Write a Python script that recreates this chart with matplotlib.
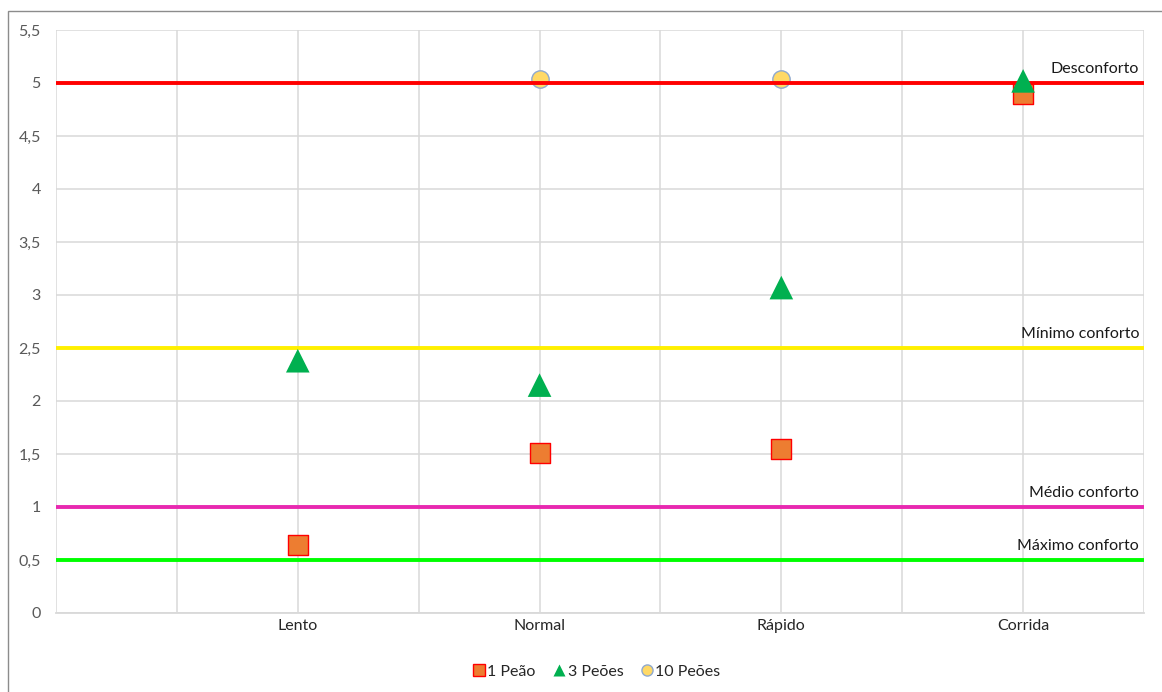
import matplotlib
matplotlib.use("Agg")
import matplotlib.pyplot as plt
from matplotlib.patches import Rectangle
from matplotlib.lines import Line2D
import numpy as np

plt.rcParams['font.family'] = ['Lato', 'DejaVu Sans']

# Walking speeds and comfort scores per crowd size
categories = ["Lento", "Normal", "Rápido", "Corrida"]
cat_x = [1, 2, 3, 4]
peao_1 = [0.64, 1.51, 1.55, 4.9]
peoes_3 = [2.38, 2.15, 3.07, 5.02]
peoes_10_x = [2, 3]
peoes_10 = [5.04, 5.04]

# Comfort thresholds
levels = [5.0, 2.5, 1.0, 0.5]
level_names = ["Desconforto", "Mínimo conforto", "Médio conforto", "Máximo conforto"]
level_colors = ["#FF0000", "#FFF000", "#E829B0", "#00FF00"]

FS = 11.5

fig = plt.figure(figsize=(11.62, 6.92), dpi=100)
ax = fig.add_axes([56 / 1162, 1 - 613 / 692, (1144 - 56) / 1162, (613 - 30) / 692])

# outer chart frame
fig.patches.append(Rectangle((8 / 1162, -0.1), 1.2, 1 - 11 / 692 + 0.1,
                             transform=fig.transFigure, fill=False,
                             edgecolor="#8c8c8c", linewidth=1.0))

ax.set_xlim(0, 4.5)
ax.set_ylim(0, 5.5)

xt = np.arange(0, 4.51, 0.5)
xl = []
for v in xt:
    if v in cat_x:
        xl.append(categories[cat_x.index(v)])
    else:
        xl.append("")
ax.set_xticks(xt)
ax.set_xticklabels(xl, fontsize=FS, color="#262626")
yt = np.arange(0, 5.51, 0.5)
ax.set_yticks(yt)
ax.set_yticklabels([("%g" % v).replace(".", ",") for v in yt], fontsize=FS, color="#595959")
ax.tick_params(axis="both", length=0)
ax.tick_params(axis="y", pad=11)
ax.tick_params(axis="x", pad=4)

ax.grid(True, color="#d9d9d9", linewidth=1.1, zorder=0)
ax.set_axisbelow(True)
for s in ["top", "right", "left"]:
    ax.spines[s].set_visible(False)
ax.spines["bottom"].set_color("#d9d9d9")
ax.spines["bottom"].set_linewidth(1.3)

ax.scatter(peoes_10_x, peoes_10, marker="o", s=12.5 ** 2, facecolor="#FFD966",
           edgecolor="#8EA9D0", linewidth=1.0, zorder=2, clip_on=False)

for lv, nm, c in zip(levels, level_names, level_colors):
    ax.plot([0, 4.5], [lv, lv], color=c, linewidth=2.8, zorder=3,
            solid_capstyle="butt", clip_on=False)
    ax.annotate(nm, xy=(4.48, lv), xytext=(0, 5), textcoords="offset points",
                ha="right", va="bottom", fontsize=FS, color="#1a1a1a", zorder=5)

ax.scatter(cat_x, peao_1, marker="s", s=15 ** 2, facecolor="#ED7D31",
           edgecolor="#FF0000", linewidth=1.0, zorder=3.5)
ax.scatter(cat_x, peoes_3, marker="^", s=17 ** 2, facecolor="#00B050",
           edgecolor="none", zorder=4)

handles = [
    Line2D([], [], linestyle="none", marker="s", markersize=8, markerfacecolor="#ED7D31",
           markeredgecolor="#FF0000", markeredgewidth=1.0),
    Line2D([], [], linestyle="none", marker="^", markersize=9, markerfacecolor="#00B050",
           markeredgecolor="none"),
    Line2D([], [], linestyle="none", marker="o", markersize=8, markerfacecolor="#FFD966",
           markeredgecolor="#8EA9D0", markeredgewidth=1.0),
]
fig.legend(handles, ["1 Peão", "3 Peões", "10 Peões"], loc="center",
           bbox_to_anchor=(596 / 1162, 1 - 672 / 692), ncol=3, frameon=False,
           fontsize=FS, handletextpad=0.1, columnspacing=1.0, handlelength=0.9,
           labelcolor="#262626")

fig.savefig("out.png", dpi=100)
